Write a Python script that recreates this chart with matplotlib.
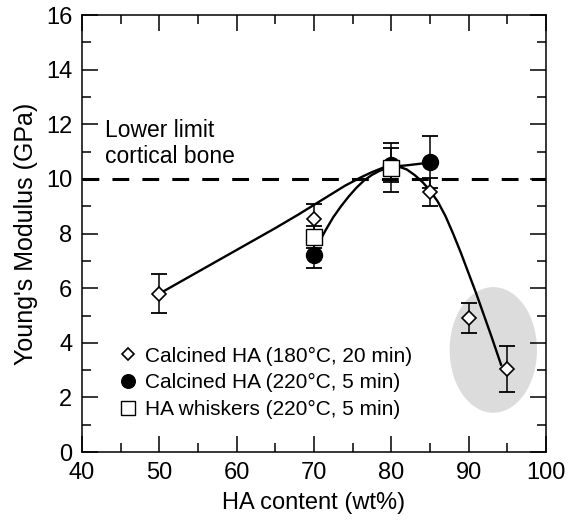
import matplotlib.pyplot as plt
from matplotlib.patches import Ellipse

plt.rcParams['font.family'] = ['Liberation Sans', 'DejaVu Sans']

# data
x_calc180 = [50, 70, 85, 90, 95]
y_calc180 = [5.8, 8.53, 9.52, 4.9, 3.05]
e_calc180 = [0.72, 0.55, 0.5, 0.55, 0.85]

x_calc220 = [70, 80, 85]
y_calc220 = [7.22, 10.5, 10.62]
e_calc220 = [0.48, 0.62, 0.96]

x_whisk = [70, 80]
y_whisk = [7.88, 10.42]
e_whisk = [0.4, 0.9]

# hand-drawn trend lines
fit1_x = [50, 55, 60, 65, 68, 70, 72, 74, 76, 77.5, 79, 80, 81, 82, 83, 84, 85, 86, 87,
          88, 89, 90, 91, 92, 93, 94.2]
fit1_y = [5.8, 6.6, 7.4, 8.2, 8.7, 9.05, 9.4, 9.75, 10.05, 10.25, 10.42, 10.48, 10.45, 10.35,
          10.15, 9.9, 9.58, 9.18, 8.65, 8.0, 7.3, 6.55, 5.8, 5.0, 4.2, 3.2]
fit2_x = [70.9, 71.5, 72.5, 73.5, 74.5, 75.5, 76.5, 77.5, 78.5, 79.5, 80.5, 82, 85]
fit2_y = [7.8, 8.12, 8.6, 9.0, 9.36, 9.68, 9.95, 10.15, 10.3, 10.4, 10.46, 10.5, 10.6]

cortical_limit = 10

fig = plt.figure(figsize=(5.71, 5.22), dpi=100)
ax = fig.add_axes([0.1436, 0.134, 0.8124, 0.837])

ax.add_patch(Ellipse((93.2, 3.74), 11.3, 4.6, facecolor='#dcdcdc', edgecolor='none', zorder=0))
ax.axhline(cortical_limit, color='black', lw=2.2, dashes=(5.5, 4.3), zorder=1)
ax.plot(fit1_x, fit1_y, color='black', lw=1.7, zorder=2, solid_joinstyle='round')
ax.plot(fit2_x, fit2_y, color='black', lw=1.7, zorder=2, solid_joinstyle='round')

ek = dict(fmt='none', ecolor='black', elinewidth=1.1, capsize=6, capthick=1.3, zorder=3)
ax.errorbar(x_calc180, y_calc180, yerr=e_calc180, **ek)
ax.errorbar(x_calc220, y_calc220, yerr=e_calc220, **ek)
ax.errorbar(x_whisk, y_whisk, yerr=e_whisk, **ek)

ax.plot(x_calc180, y_calc180, 'D', ms=6.8, mfc='white', mec='black', mew=1.2, ls='none',
        zorder=4, label='Calcined HA (180°C, 20 min)')
ax.plot(x_calc220, y_calc220, 'o', ms=11.5, mfc='black', mec='black', ls='none',
        zorder=4, label='Calcined HA (220°C, 5 min)')
ax.plot(x_whisk, y_whisk, 's', ms=11.2, mfc='white', mec='black', mew=1.0, ls='none',
        zorder=5, label='HA whiskers (220°C, 5 min)')

ax.text(43, 10.42, 'Lower limit\ncortical bone', fontsize=16.5, ha='left', va='bottom', linespacing=1.15)

ax.legend(loc='upper left', bbox_to_anchor=(0.054, 0.265), frameon=False, fontsize=15,
          handlelength=1.0, handletextpad=0.32, labelspacing=0.36, borderpad=0, markerscale=0.85)

ax.set_xlim(40, 100)
ax.set_ylim(0, 16)
ax.set_xticks(range(40, 101, 10))
ax.set_xticks(range(45, 100, 10), minor=True)
ax.set_yticks(range(0, 17, 2))
ax.set_yticks(range(1, 16, 2), minor=True)
ax.tick_params(which='both', direction='in', top=True, right=True, labelsize=17, width=1.1)
ax.tick_params(which='major', length=11.5, pad=7)
ax.tick_params(which='minor', length=6.5)
for s in ax.spines.values():
    s.set_linewidth(1.1)

ax.set_xlabel('HA content (wt%)', fontsize=17, labelpad=6)
ax.set_ylabel("Young's Modulus (GPa)", fontsize=18, labelpad=6)

fig.savefig('out.png', dpi=100)
